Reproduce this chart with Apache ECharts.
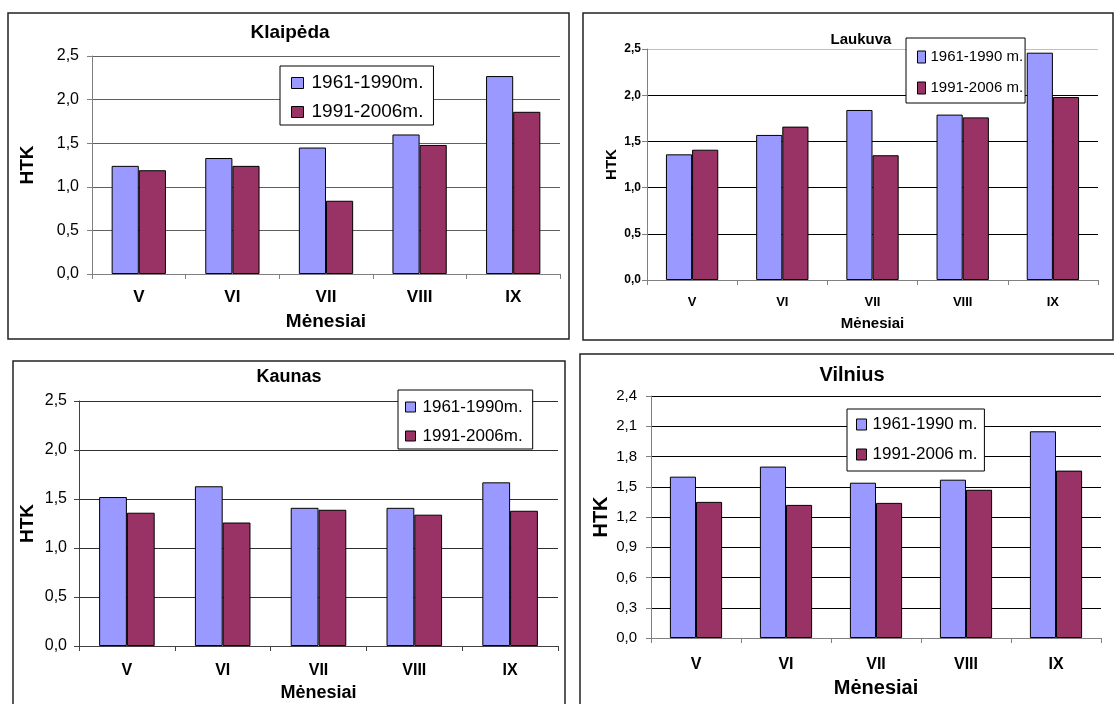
<!DOCTYPE html>
<html>
<head>
<meta charset="utf-8">
<script src="https://cdn.jsdelivr.net/npm/echarts@6/dist/echarts.min.js"></script>
<style>
  html, body { margin: 0; padding: 0; background: #fff; }
  #chart { width: 1114px; height: 704px; }
</style>
</head>
<body>
<div id="chart"></div>
<script>
// HTK by month, two climate periods, four stations
const months = ['V', 'VI', 'VII', 'VIII', 'IX'];

const klaipeda6190 = [1.24, 1.33, 1.45, 1.60, 2.27];
const klaipeda9106 = [1.19, 1.24, 0.84, 1.48, 1.86];

const laukuva6190 = [1.36, 1.57, 1.84, 1.79, 2.46];
const laukuva9106 = [1.41, 1.66, 1.35, 1.76, 1.98];

const kaunas6190 = [1.52, 1.63, 1.41, 1.41, 1.67];
const kaunas9106 = [1.36, 1.26, 1.39, 1.34, 1.38];

const vilnius6190 = [1.60, 1.70, 1.54, 1.57, 2.05];
const vilnius9106 = [1.35, 1.32, 1.34, 1.47, 1.66];

const stationNames = ['Klaipėda', 'Laukuva', 'Kaunas', 'Vilnius'];
const periodsCompact = ['1961-1990m.', '1991-2006m.'];
const periodsSpaced = ['1961-1990 m.', '1991-2006 m.'];
const yMax = [2.5, 2.5, 2.5, 2.4];
const yStep = [0.5, 0.5, 0.5, 0.3];
const xAxisName = 'Mėnesiai';
const yAxisName = 'HTK';

// ---- styling ----
const REG = "'Liberation Sans', Arial, sans-serif";
const COLOR_OLD = '#9999FF';
const COLOR_NEW = '#993366';

const panels = [
  {
    station: stationNames[0], names: periodsCompact, a: klaipeda6190, b: klaipeda9106,
    grid: { left: 92, right: 554, top: 56, bottom: 430 },
    frame: [8, 13, 561, 326],
    title: { x: 290, y: 33, font: 'bold 19px ' + REG },
    tick: { size: 16, weight: 'normal', margin: 13 },
    cat: { size: 17, weight: 'bold', margin: 15 },
    xName: { size: 19, gap: 38 },
    yName: { size: 19, gap: 55 },
    axisColor: '#808080', gridColor: ['#606060'],
    legend: { left: 280, top: 66, padding: [7, 10, 3, 11], w: 12, h: 11,
              size: 19, lh: 20, gap: 9, textPad: [0, 0, 0, 3] }
  },
  {
    station: stationNames[1], names: periodsSpaced, a: laukuva6190, b: laukuva9106,
    grid: { left: 647, right: 16, top: 49, bottom: 424 },
    frame: [583, 13, 530, 327],
    title: { x: 861, y: 40, font: 'bold 15px ' + REG },
    tick: { size: 12, weight: 'bold', margin: 6 },
    cat: { size: 13, weight: 'bold', margin: 16 },
    xName: { size: 15, gap: 36 },
    yName: { size: 15, gap: 28 },
    axisColor: '#808080', gridColor: ['#000', '#000', '#000', '#000', '#000', '#c0c0c0'],
    legend: { left: 906, top: 38, padding: [10, 2, 6, 11], w: 8, h: 12,
              size: 15, lh: 18, gap: 13, textPad: [0, 0, 0, 0] }
  },
  {
    station: stationNames[2], names: periodsCompact, a: kaunas6190, b: kaunas9106,
    grid: { left: 79, right: 556, top: 401, bottom: 58 },
    frame: [13, 361, 552, 360],
    title: { x: 289, y: 377, font: 'bold 18px ' + REG },
    tick: { size: 16, weight: 'normal', margin: 12 },
    cat: { size: 16, weight: 'bold', margin: 17 },
    xName: { size: 18, gap: 38 },
    yName: { size: 19, gap: 42 },
    axisColor: '#404040', gridColor: ['#303030'],
    legend: { left: 398, top: 390, padding: [8, 10, 4, 7], w: 10, h: 10,
              size: 17, lh: 18, gap: 11, textPad: [0, 0, 0, 2] }
  },
  {
    station: stationNames[3], names: periodsSpaced, a: vilnius6190, b: vilnius9106,
    grid: { left: 651, right: 13, top: 396, bottom: 66 },
    frame: [580, 354, 560, 360],
    title: { x: 852, y: 375, font: 'bold 20px ' + REG },
    tick: { size: 15, weight: 'normal', margin: 14 },
    cat: { size: 16, weight: 'bold', margin: 19 },
    xName: { size: 20, gap: 40 },
    yName: { size: 20, gap: 40 },
    axisColor: '#808080', gridColor: ['#000'],
    legend: { left: 847, top: 409, padding: [6, 7, 7, 9], w: 10, h: 11,
              size: 17, lh: 19, gap: 11, textPad: [0, 0, 0, 1] }
  }
];

const fmt = v => (Math.round(v * 10) / 10).toFixed(1).replace('.', ',');

const option = {
  animation: false,
  backgroundColor: '#fff',
  grid: [], xAxis: [], yAxis: [], series: [], legend: [], graphic: []
};

panels.forEach((p, i) => {
  option.grid.push(Object.assign({ containLabel: false, outerBoundsMode: 'none' }, p.grid));

  option.xAxis.push({
    type: 'category', gridIndex: i, data: months,
    name: xAxisName, nameLocation: 'middle', nameGap: p.xName.gap,
    nameTextStyle: { fontFamily: REG, fontSize: p.xName.size, fontWeight: 'bold', color: '#000' },
    axisLine: { show: true, lineStyle: { color: p.axisColor, width: 1 } },
    axisTick: { show: true, length: 5, lineStyle: { color: p.axisColor } },
    axisLabel: { margin: p.cat.margin, color: '#000', fontFamily: REG,
                 fontSize: p.cat.size, fontWeight: p.cat.weight },
    splitLine: { show: false }
  });

  option.yAxis.push({
    type: 'value', gridIndex: i, min: 0, max: yMax[i], interval: yStep[i],
    name: yAxisName, nameLocation: 'middle', nameRotate: 90, nameGap: p.yName.gap,
    nameTextStyle: { fontFamily: REG, fontSize: p.yName.size, fontWeight: 'bold', color: '#000' },
    axisLine: { show: true, lineStyle: { color: p.axisColor, width: 1 } },
    axisTick: { show: true, length: 5, lineStyle: { color: p.axisColor } },
    axisLabel: { margin: p.tick.margin, color: '#000', fontFamily: REG,
                 fontSize: p.tick.size, fontWeight: p.tick.weight, formatter: fmt },
    splitLine: { show: true, lineStyle: { color: p.gridColor, width: 1 } }
  });

  [[p.names[0], p.a, COLOR_OLD], [p.names[1], p.b, COLOR_NEW]].forEach(([name, data, color]) => {
    option.series.push({
      type: 'bar', name, data, xAxisIndex: i, yAxisIndex: i,
      barGap: '0%', barCategoryGap: '42%',
      itemStyle: { color, borderColor: '#000', borderWidth: 1 },
      emphasis: { disabled: true }
    });
  });

  const L = p.legend;
  option.legend.push({
    orient: 'vertical', left: L.left, top: L.top, padding: L.padding,
    data: p.names, icon: 'rect', itemWidth: L.w, itemHeight: L.h, itemGap: L.gap,
    borderColor: '#000', borderWidth: 1, backgroundColor: '#fff',
    selectedMode: false,
    itemStyle: { borderColor: '#000', borderWidth: 1 },
    textStyle: { fontFamily: REG, fontSize: L.size, lineHeight: L.lh,
                 color: '#000', padding: L.textPad }
  });

  option.graphic.push({
    type: 'rect', silent: true, z: 0,
    shape: { x: p.frame[0], y: p.frame[1], width: p.frame[2], height: p.frame[3] },
    style: { fill: 'none', stroke: '#222', lineWidth: 1.5 }
  });
  option.graphic.push({
    type: 'text', silent: true, z: 10,
    x: p.title.x, y: p.title.y,
    style: { text: p.station, font: p.title.font, fill: '#000',
             textAlign: 'center', textVerticalAlign: 'middle' }
  });
});

const chart = echarts.init(document.getElementById('chart'), null, { renderer: 'canvas' });
chart.setOption(option);
</script>
</body>
</html>
